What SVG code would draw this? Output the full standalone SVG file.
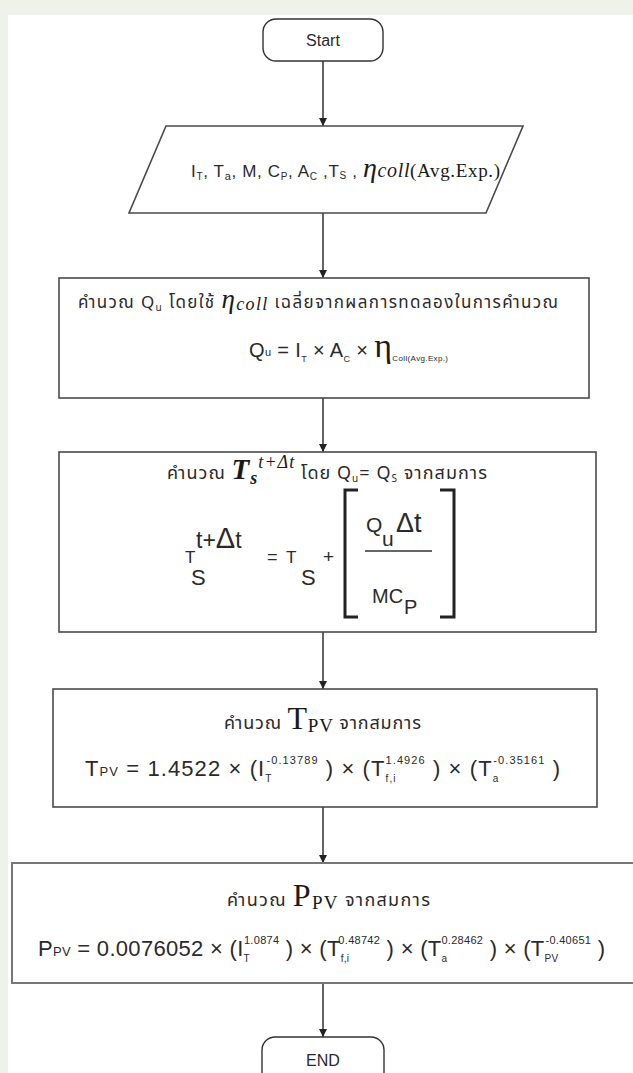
<svg xmlns="http://www.w3.org/2000/svg" width="633" height="1073" viewBox="0 0 633 1073">
<style>
.box{fill:#fff;stroke:#4a4a4a;stroke-width:1.6}
.term{fill:#fff;stroke:#333;stroke-width:1.4}
.con{stroke:#222;stroke-width:1.4;fill:none}
.th{font-family:'Noto Sans Thai','Tlwg Typo','Loma','Garuda','Noto Sans','DejaVu Sans',sans-serif;fill:#2a2a2a}
.sa{font-family:'Liberation Sans','Noto Sans',sans-serif;fill:#2a2a2a}
.se{font-family:'Liberation Serif','DejaVu Serif',serif;fill:#1a1a1a}
.mi{font-family:'Liberation Serif','DejaVu Serif',serif;font-style:italic;fill:#1a1a1a}
.br{stroke:#222;stroke-width:3;fill:none}
</style>
<defs>
<marker id="ah" viewBox="0 0 10 10" refX="10" refY="5" markerWidth="8" markerHeight="10" markerUnits="userSpaceOnUse" orient="auto">
<path d="M0,0 L10,5 L0,10 z" fill="#222"/>
</marker>
</defs>
<rect x="0" y="0" width="633" height="1073" fill="#eef2e8"/>
<rect x="8" y="15" width="625" height="1058" fill="#ffffff"/>

<g id="connectors">
<line class="con" x1="323" y1="61" x2="323" y2="126" marker-end="url(#ah)"/>
<line class="con" x1="323" y1="213" x2="323" y2="278" marker-end="url(#ah)"/>
<line class="con" x1="323" y1="398" x2="323" y2="452" marker-end="url(#ah)"/>
<line class="con" x1="323" y1="632" x2="323" y2="689" marker-end="url(#ah)"/>
<line class="con" x1="323" y1="807" x2="323" y2="863" marker-end="url(#ah)"/>
<line class="con" x1="323" y1="983" x2="323" y2="1037" marker-end="url(#ah)"/>
</g>

<g id="start">
<rect class="term" x="263" y="19" width="120" height="42" rx="13"/>
<text class="sa" x="323" y="46" font-size="16" text-anchor="middle">Start</text>
</g>

<g id="input">
<polygon class="box" points="166,126 523,126 486,213 129,213"/>
<text class="sa" x="191" y="177" font-size="17" textLength="309" lengthAdjust="spacing">I<tspan font-size="10" dy="3">T</tspan><tspan dy="-3">, T</tspan><tspan font-size="11" dy="3">a</tspan><tspan dy="-3">, M, C</tspan><tspan font-size="10" dy="3">P</tspan><tspan dy="-3">, A</tspan><tspan font-size="10" dy="3">C</tspan><tspan dy="-3"> ,T</tspan><tspan font-size="10" dy="2">S</tspan><tspan dy="-2"> , </tspan><tspan class="mi" font-size="28">η</tspan><tspan class="mi" font-size="20">coll</tspan><tspan class="se" font-size="19" font-style="normal">(Avg.Exp.)</tspan></text>
</g>

<g id="calcQu">
<rect class="box" x="59" y="278" width="530" height="120"/>
<text class="th" x="78" y="308" font-size="17" textLength="480" lengthAdjust="spacing">คำนวณ Q<tspan font-size="10" dy="3">u</tspan><tspan dy="-3"> โดยใช้ </tspan><tspan class="mi" font-size="27">η</tspan><tspan class="mi" font-size="18" dy="2">coll</tspan><tspan dy="-2"> เฉลี่ยจากผลการทดลองในการคำนวณ</tspan></text>
<text class="sa" x="249" y="357" font-size="20" textLength="199" lengthAdjust="spacing">Q<tspan font-size="11" dy="-1">u</tspan><tspan dy="1"> = I</tspan><tspan font-size="9" dy="5">T</tspan><tspan dy="-5"> × A</tspan><tspan font-size="9" dy="5">C</tspan><tspan dy="-5"> × </tspan><tspan class="se" font-size="34">η</tspan><tspan font-size="8" dy="4">Coll(Avg.Exp.)</tspan></text>
</g>

<g id="calcTs">
<rect class="box" x="59" y="452" width="537" height="180"/>
<text class="th" x="167" y="479" font-size="18" textLength="320" lengthAdjust="spacing">คำนวณ <tspan class="mi" font-size="29" font-weight="bold">T</tspan><tspan class="mi" font-size="18" font-weight="bold" dy="5">s</tspan><tspan class="mi" font-size="18" dy="-16">t+Δt</tspan><tspan dy="11"> โดย Q</tspan><tspan font-size="10" dy="3">u</tspan><tspan dy="-3">= Q</tspan><tspan font-size="10" dy="3">S</tspan><tspan dy="-3">  จากสมการ</tspan></text>
<text class="sa" x="185" y="563" font-size="17">T</text>
<text class="sa" x="196" y="548" font-size="23">t+<tspan font-size="29">Δ</tspan>t</text>
<text class="sa" x="191" y="585" font-size="22">S</text>
<text class="sa" x="267" y="563" font-size="18">=</text>
<text class="sa" x="286" y="563" font-size="17">T</text>
<text class="sa" x="301" y="585" font-size="22">S</text>
<text class="sa" x="323" y="563" font-size="19">+</text>
<path class="br" d="M358,490 H345 V617 H358"/>
<path class="br" d="M440,490 H454 V617 H440"/>
<text class="sa" x="366" y="532" font-size="21">Q</text>
<text class="sa" x="382" y="546" font-size="21">u</text>
<text class="sa" x="396" y="532" font-size="27">Δt</text>
<line x1="365" y1="551" x2="432" y2="551" stroke="#333" stroke-width="1.3"/>
<text class="sa" x="372" y="603" font-size="20">MC</text>
<text class="sa" x="404" y="614" font-size="20">P</text>
</g>

<g id="calcTpv">
<rect class="box" x="53" y="689" width="544" height="118"/>
<text class="th" x="224" y="729" font-size="18" textLength="197" lengthAdjust="spacing">คำนวณ <tspan class="se" font-size="32">T</tspan><tspan class="se" font-size="19" dy="3">PV</tspan><tspan dy="-3"> จากสมการ</tspan></text>
<text class="sa" x="85" y="776" font-size="22" textLength="475" lengthAdjust="spacing">T<tspan font-size="13">PV</tspan> = 1.4522 × (I<tspan font-size="10" dy="6">T</tspan><tspan font-size="11" dx="-6" dy="-18">-0.13789</tspan><tspan dy="12"> ) × (T</tspan><tspan font-size="10" dy="6">f,i</tspan><tspan font-size="11" dx="-11" dy="-18">1.4926</tspan><tspan dy="12"> ) × (T</tspan><tspan font-size="10" dy="6">a</tspan><tspan font-size="11" dx="-6" dy="-18">-0.35161</tspan><tspan dy="12"> )</tspan></text>
</g>

<g id="calcPpv">
<rect x="12" y="863" width="640" height="120" fill="#fff" stroke="#777" stroke-width="2"/>
<text class="th" x="227" y="906" font-size="18" textLength="203" lengthAdjust="spacing">คำนวณ <tspan class="se" font-size="32">P</tspan><tspan class="se" font-size="19" dy="3">PV</tspan><tspan dy="-3"> จากสมการ</tspan></text>
<text class="sa" x="38" y="956" font-size="22" textLength="567" lengthAdjust="spacing">P<tspan font-size="13">PV</tspan> = 0.0076052 × (I<tspan font-size="10" dy="6">T</tspan><tspan font-size="11" dx="-6" dy="-18">1.0874</tspan><tspan dy="12"> ) × (T</tspan><tspan font-size="10" dy="6">f,i</tspan><tspan font-size="11" dx="-11" dy="-18">0.48742</tspan><tspan dy="12"> ) × (T</tspan><tspan font-size="10" dy="6">a</tspan><tspan font-size="11" dx="-6" dy="-18">0.28462</tspan><tspan dy="12"> ) × (T</tspan><tspan font-size="10" dy="6">PV</tspan><tspan font-size="11" dx="-13" dy="-18">-0.40651</tspan><tspan dy="12"> )</tspan></text>
</g>

<g id="end">
<rect class="term" x="262" y="1037" width="122" height="48" rx="13"/>
<text class="sa" x="323" y="1066" font-size="16" text-anchor="middle">END</text>
</g>
</svg>
